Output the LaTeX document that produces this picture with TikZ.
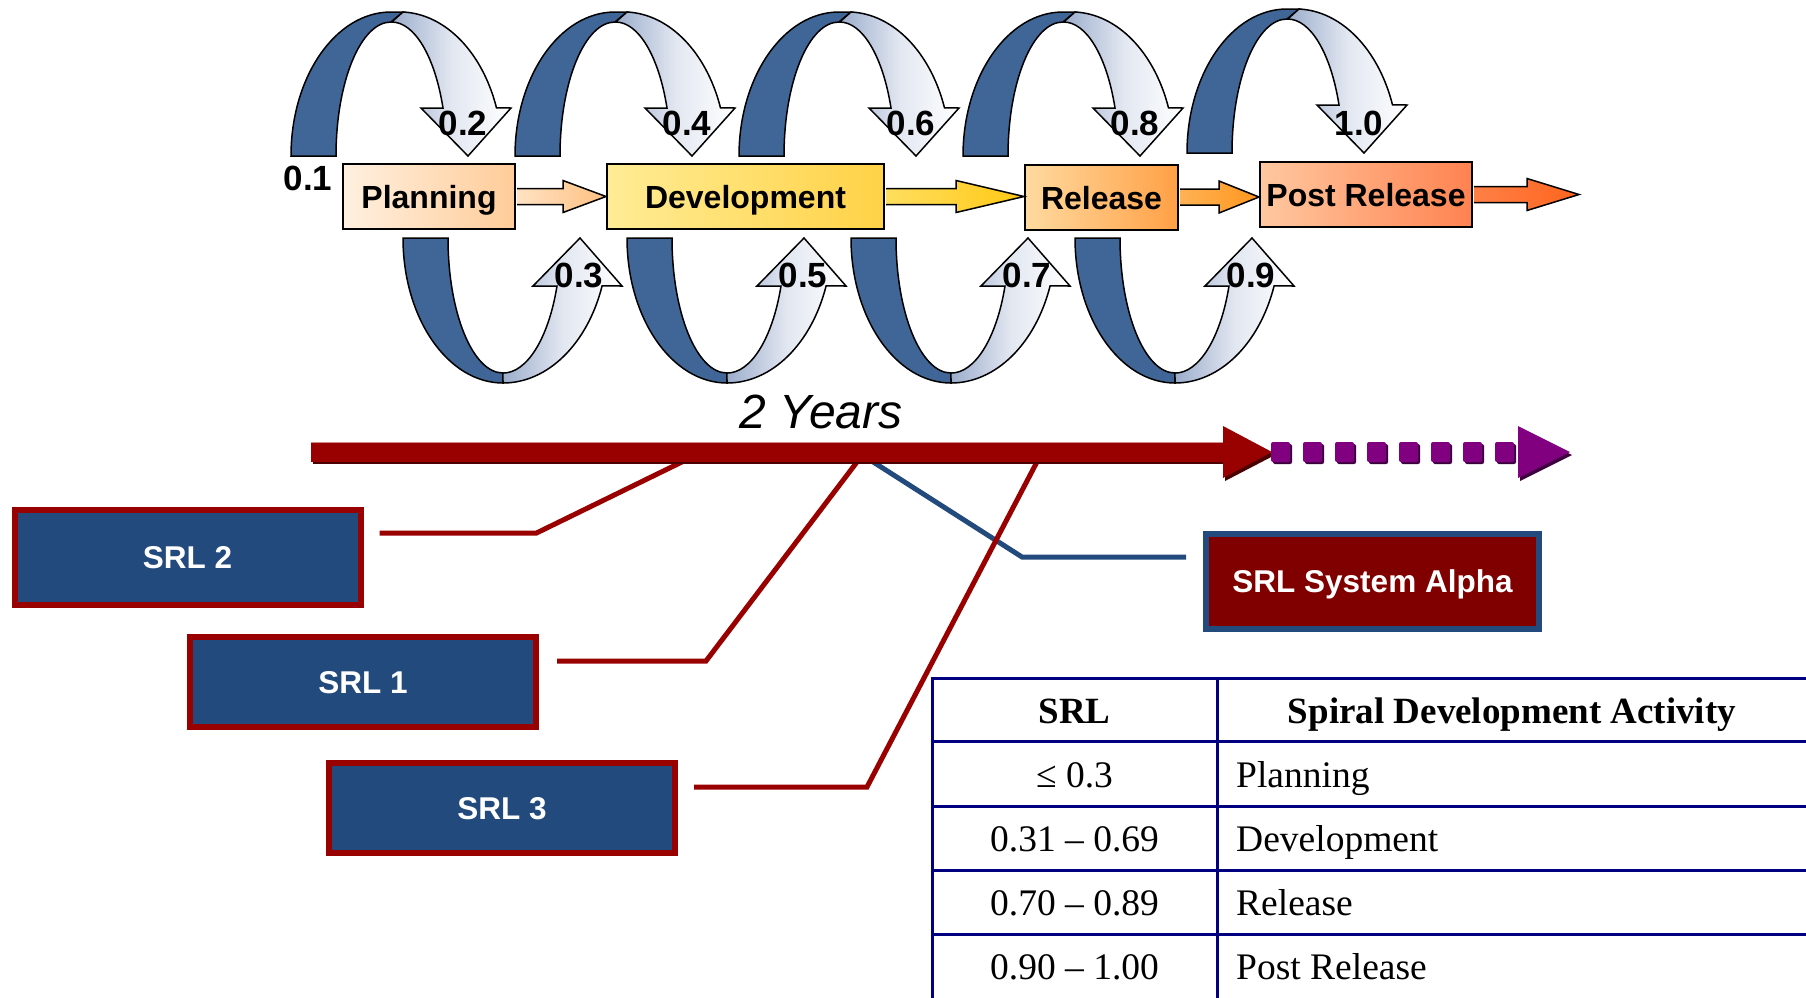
\documentclass[tikz,border=0pt]{standalone}
\usepackage{fontspec}
\setmainfont{Liberation Sans}
\newfontfamily\tabfont{Liberation Serif}
\usetikzlibrary{calc}

\definecolor{loopdark}{RGB}{64,102,151}
\definecolor{loopedge}{RGB}{155,173,204}
\definecolor{loopmid}{RGB}{226,231,241}
\definecolor{planL}{RGB}{255,240,224}
\definecolor{planR}{RGB}{255,204,153}
\definecolor{devL}{RGB}{255,236,150}
\definecolor{devR}{RGB}{255,210,70}
\definecolor{relL}{RGB}{255,218,160}
\definecolor{relR}{RGB}{255,160,70}
\definecolor{postL}{RGB}{255,200,160}
\definecolor{postR}{RGB}{255,130,80}
\definecolor{planArrL}{RGB}{255,226,195}
\definecolor{planArrR}{RGB}{255,192,130}
\definecolor{devArrL}{RGB}{255,222,95}
\definecolor{devArrR}{RGB}{255,200,20}
\definecolor{relArrL}{RGB}{255,178,85}
\definecolor{relArrR}{RGB}{255,150,30}
\definecolor{postArrL}{RGB}{255,128,70}
\definecolor{postArrR}{RGB}{255,100,30}
\definecolor{tlred}{RGB}{153,0,0}
\definecolor{tlpurple}{RGB}{128,0,128}
\definecolor{srlblue}{RGB}{34,74,124}
\definecolor{srlred}{RGB}{153,0,0}
\definecolor{alphared}{RGB}{128,0,0}
\definecolor{tabnavy}{RGB}{0,0,128}

\tikzset{
  stage/.style={draw=black, line width=2pt, minimum height=65pt, inner sep=1pt,
    text height=24pt, text depth=0pt, font=\fontsize{32}{36}\selectfont\bfseries},
  lbl/.style={font=\fontsize{35}{40}\selectfont\bfseries},
  loopdk/.style={fill=loopdark, draw=black, line width=1.5pt},
  looplt/.style={draw=black, line width=1.5pt, left color=loopedge, right color=white, middle color=loopmid},
  srlbox/.style={fill=srlblue, draw=srlred, line width=6pt, minimum width=346pt, minimum height=90pt,
    text=white, text height=22.5pt, text depth=0pt, font=\fontsize{31.5}{36}\selectfont\bfseries},
  srlline/.style={draw=srlred, line width=5pt},
  tabline/.style={draw=tabnavy, line width=3pt, line cap=rect},
  tabtext/.style={font=\tabfont\fontsize{37.5}{40}\selectfont, inner sep=0pt},
  tabhead/.style={font=\tabfont\bfseries\fontsize{37}{40}\selectfont, inner sep=0pt, anchor=base},
}

% block arrow from #1 to #2, head length #3, shading #4 -> #5
\newcommand{\blockarr}[5]{%
  \path[draw=black, line width=1.5pt, left color=#4, right color=#5]
    let \p1=(#1), \p2=(#2) in
    (\x1+1pt,\y1+8pt) -- (\x2-#3pt,\y1+8pt) -- (\x2-#3pt,\y1+16pt) -- (\x2,\y1)
    -- (\x2-#3pt,\y1-16pt) -- (\x2-#3pt,\y1-8pt) -- (\x1+1pt,\y1-8pt);
}

\begin{document}
\begin{tikzpicture}[x=1pt, y=-1pt]
\useasboundingbox (0,0) rectangle (1806,997);

% loops above the stages
\foreach \i/\dy in {0/0,1/0,2/0,3/0,4/-3}
{
  \begin{scope}[shift={(224*\i,\dy)}]
    \path[loopdk] (291,156) arc[start angle=180, end angle=270, x radius=100, y radius=144]
      -- (403,12) -- (391,22) arc[start angle=270, end angle=180, x radius=55, y radius=134] -- cycle;
    \path[looplt] (403,12) arc[start angle=272, end angle=340.5, x radius=103, y radius=144]
      -- (511,108) -- (468,156) -- (421,108) -- (443,108)
      arc[start angle=339, end angle=270, x radius=55, y radius=134] -- cycle;
  \end{scope}
}

% loops below the stages
\foreach \i in {0,...,3}
{
  \begin{scope}[shift={(224*\i,0)}]
    \path[loopdk] (403,238) arc[start angle=180, end angle=90, x radius=100, y radius=145]
      -- (503,373) arc[start angle=90, end angle=180, x radius=55, y radius=135] -- cycle;
    \path[looplt] (503,383) arc[start angle=90, end angle=19.3, x radius=105, y radius=145]
      -- (622,286) -- (580,238) -- (533,286) -- (557,286)
      arc[start angle=20.8, end angle=90, x radius=57.8, y radius=135] -- cycle;
  \end{scope}
}

\node[lbl] (l01) at (308,178) {0.1};
\foreach \v [count=\i from 0] in {0.2,0.4,0.6,0.8,1.0}
  \node[lbl] (u\i) at (463+224*\i,123) {\v};
\foreach \v [count=\i from 0] in {0.3,0.5,0.7,0.9}
  \node[lbl] (d\i) at (579+224*\i,275) {\v};

% stages
\node[stage, left color=planL, right color=planR, minimum width=172pt] (plan) at (429,196.5) {Planning};
\node[stage, left color=devL, right color=devR, minimum width=277pt] (dev) at (745.5,196.5) {Development};
\node[stage, left color=relL, right color=relR, minimum width=153pt] (rel) at (1101.5,197) {Release};
\node[stage, left color=postL, right color=postR, minimum width=212pt] (post) at (1366,194.5) {Post Release};
\coordinate (postend) at (1579,194.5);

\blockarr{plan.east}{dev.west}{43}{planArrL}{planArrR}
\blockarr{dev.east}{rel.west}{68}{devArrL}{devArrR}
\blockarr{rel.east}{post.west}{40}{relArrL}{relArrR}
\blockarr{post.east}{postend}{52}{postArrL}{postArrR}

% time line
\node[font=\fontsize{48}{56}\selectfont\itshape] (yrs) at (821,412) {2 Years};
\coordinate (tl2) at (690,458);
\coordinate (tl1) at (860,458);
\coordinate (tl3) at (1039,458);
\coordinate (tla) at (867,458);

\node[srlbox, minimum height=95pt] (srl2) at (187.5,557.5) {SRL 2};
\node[srlbox] (srl1) at (363,682) {SRL 1};
\node[srlbox] (srl3) at (502,808) {SRL 3};
\node[srlbox, draw=srlblue, fill=alphared, minimum width=333pt, minimum height=95pt] (alpha) at (1372.5,581.5) {SRL System Alpha};

\draw[srlline, draw=srlblue] ([shift={(-17,-24.5)}]alpha.west) -- ++(-164,0) -- (tla);
\draw[srlline] ([shift={(16,-24.5)}]srl2.east) -- ++(157,0) -- (tl2);
\draw[srlline] ([shift={(18,-21)}]srl1.east) -- ++(149,0) -- (tl1);
\draw[srlline] ([shift={(16,-21)}]srl3.east) -- ++(173,0) -- (tl3);

\fill[tlred!50!black] (313,445) rectangle (1225,464);
\fill[tlred] (311,442) rectangle (1225,462);
\draw[tlred!45!white, line width=1.5pt] (311,442.5) -- (1223,442.5);
\fill[tlred!50!black] (1225,429) -- (1275,455) -- (1225,481) -- cycle;
\fill[tlred] (1223,426) -- (1272,452) -- (1223,478) -- cycle;
\foreach \k in {0,...,7}
{
  \fill[tlpurple!50!black, rounded corners=2pt] (1273+32*\k,444) rectangle ++(19,20);
  \fill[tlpurple, rounded corners=2pt] (1271+32*\k,442) rectangle ++(19,20);
}
\fill[tlpurple!50!black] (1520,429) -- (1572,455) -- (1520,481) -- cycle;
\fill[tlpurple] (1518,426) -- (1570,452) -- (1518,478) -- cycle;

% table
\foreach \yy in {678,741,806,870,934}
  \draw[tabline] (932,\yy) -- (1806,\yy);
\draw[tabline] (932,678) -- (932,997);
\draw[tabline] (1217,678) -- (1217,997);
\node[tabhead] (h1) at (1074.5,723) {SRL};
\node[tabhead] (h2) at (1512,723) {Spiral Development Activity};
\foreach \a/\b [count=\r from 0] in {≤ 0.3/Planning, 0.31 – 0.69/Development, 0.70 – 0.89/Release, 0.90 – 1.00/Post Release}
{
  \node[tabtext, anchor=base] (a\r) at (1074.5,787+64.3*\r) {\a};
  \node[tabtext, anchor=base west] (b\r) at (1236,787+64.3*\r) {\b};
}
\end{tikzpicture}
\end{document}
